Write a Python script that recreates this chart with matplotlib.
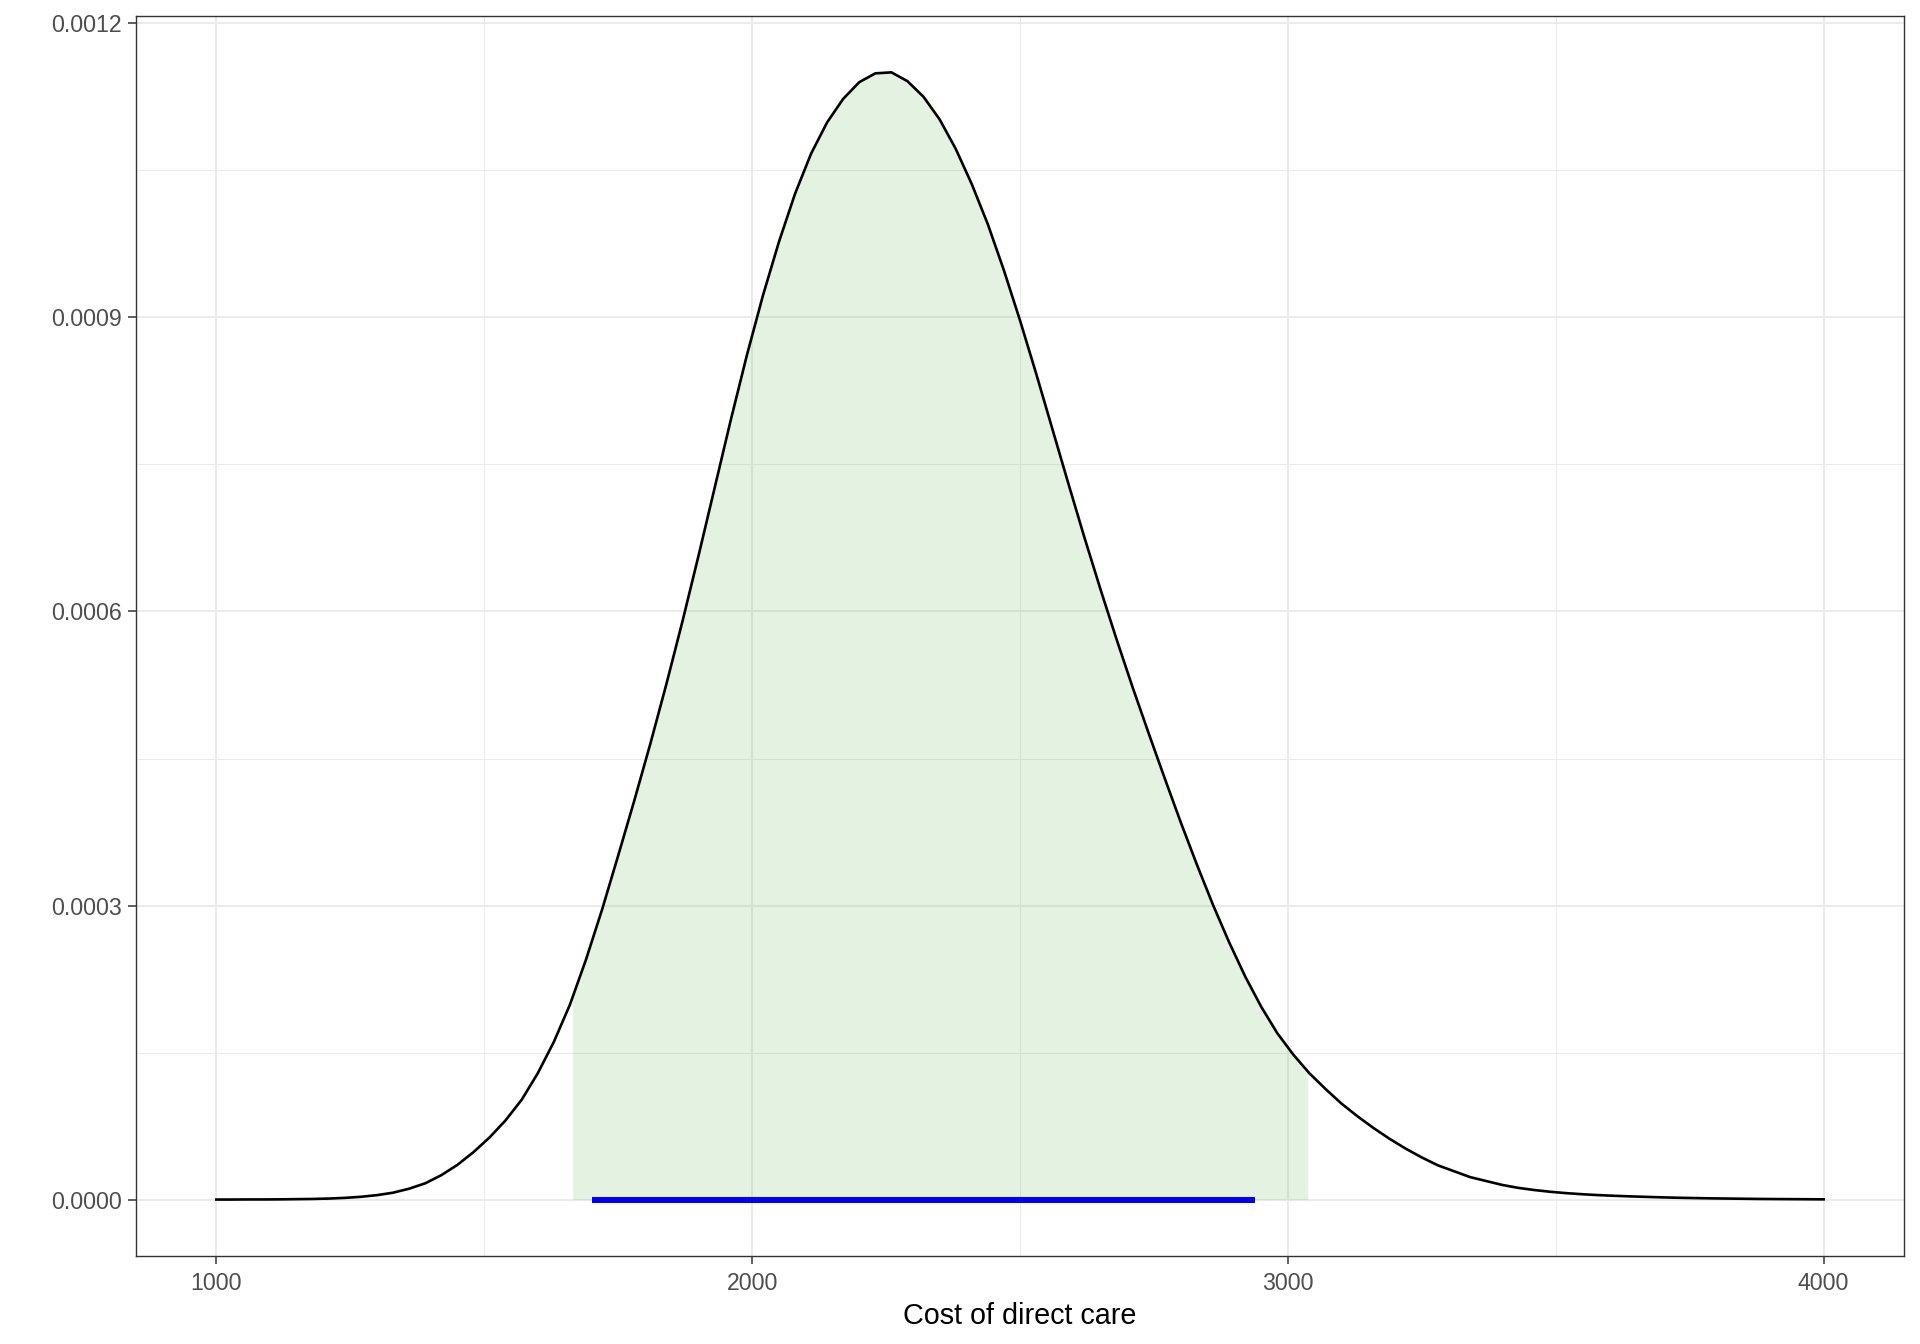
import numpy as np
import matplotlib
matplotlib.use('Agg')
import matplotlib.pyplot as plt

plt.rcParams['font.family'] = ['Liberation Sans', 'DejaVu Sans']

# density of the cost at steps of 30
cost = np.arange(1000, 4001, 30)
density = [
    0.0000001, 0.0000001, 0.0000002, 0.0000002, 0.0000003, 0.0000005, 0.0000007,
    0.0000011, 0.0000018, 0.0000029, 0.0000046, 0.0000071, 0.0000112, 0.0000167,
    0.0000250, 0.0000355, 0.0000485, 0.0000635, 0.0000810, 0.0001020, 0.0001290,
    0.0001610, 0.0001990, 0.0002450, 0.0002960, 0.0003510, 0.0004070, 0.0004650,
    0.0005260, 0.0005900, 0.0006570, 0.0007260, 0.0007950, 0.0008610, 0.0009220,
    0.0009770, 0.0010260, 0.0010670, 0.0010990, 0.0011230, 0.0011400, 0.0011490,
    0.0011500, 0.0011410, 0.0011250, 0.0011020, 0.0010720, 0.0010360, 0.0009950,
    0.0009480, 0.0008970, 0.0008430, 0.0007870, 0.0007310, 0.0006760, 0.0006230,
    0.0005720, 0.0005230, 0.0004760, 0.0004300, 0.0003850, 0.0003420, 0.0003010,
    0.0002630, 0.0002280, 0.0001970, 0.0001700, 0.0001480, 0.0001290, 0.0001130,
    0.0000980, 0.0000850, 0.0000730, 0.0000620, 0.0000520, 0.0000430, 0.0000350,
    0.0000290, 0.0000230, 0.0000190, 0.0000150, 0.0000120, 0.0000098, 0.0000080,
    0.0000066, 0.0000055, 0.0000046, 0.0000039, 0.0000033, 0.0000028, 0.0000023,
    0.0000019, 0.0000016, 0.0000013, 0.0000011, 0.0000009, 0.0000007, 0.0000006,
    0.0000005, 0.0000004, 0.0000003,
]
density = np.array(density)

shade_range = [1665, 3037]      # green band
interval = [1702, 2938]         # blue segment on the axis

x_ticks = [1000, 2000, 3000, 4000]
x_labels = ['1000', '2000', '3000', '4000']
x_minor = [1500, 2500, 3500]
y_ticks = [0.0, 0.0003, 0.0006, 0.0009, 0.0012]
y_labels = ['0.0000', '0.0003', '0.0006', '0.0009', '0.0012']
y_minor = [0.00015, 0.00045, 0.00075, 0.00105]

fig = plt.figure(figsize=(19.2, 13.44), dpi=100)
ax = fig.add_axes([136 / 1920, 1 - 1256 / 1344, (1904 - 136) / 1920, (1256 - 16) / 1344])

# shaded area under the curve between the bounds
lo, hi = shade_range
inside = (cost > lo) & (cost < hi)
fx = np.concatenate([[lo], cost[inside], [hi]])
fy = np.concatenate([[np.interp(lo, cost, density)], density[inside], [np.interp(hi, cost, density)]])
ax.fill_between(fx, 0, fy, color=(75 / 255, 175 / 255, 55 / 255), alpha=0.15, linewidth=0, zorder=1)

ax.plot(cost, density, color='black', lw=1.9, zorder=2)
ax.plot(interval, [0, 0], color='#0000FF', lw=4.3, solid_capstyle='butt', zorder=3)

xr = cost.max() - cost.min()
ax.set_xlim(cost.min() - 0.05 * xr, cost.max() + 0.05 * xr)
ymax = density.max()
ax.set_ylim(-0.05 * ymax, ymax * 1.05)

ax.set_xticks(x_ticks)
ax.set_xticklabels(x_labels)
ax.set_xticks(x_minor, minor=True)
ax.set_yticks(y_ticks)
ax.set_yticklabels(y_labels)
ax.set_yticks(y_minor, minor=True)

ax.set_axisbelow(True)
ax.grid(which='major', color='#EBEBEB', lw=1.45)
ax.grid(which='minor', color='#EBEBEB', lw=0.75)

ax.tick_params(which='major', direction='out', length=5.5, width=1.1, color='#333333',
               labelsize=16.7, labelcolor='#4D4D4D')
ax.tick_params(axis='x', which='major', pad=6)
ax.tick_params(axis='y', which='major', pad=5)
ax.tick_params(which='minor', length=0)
for s in ax.spines.values():
    s.set_color('#333333')
    s.set_linewidth(1.0)

ax.set_xlabel('Cost of direct care', fontsize=20.7, color='black', labelpad=5)

fig.savefig('out.png', dpi=100)
